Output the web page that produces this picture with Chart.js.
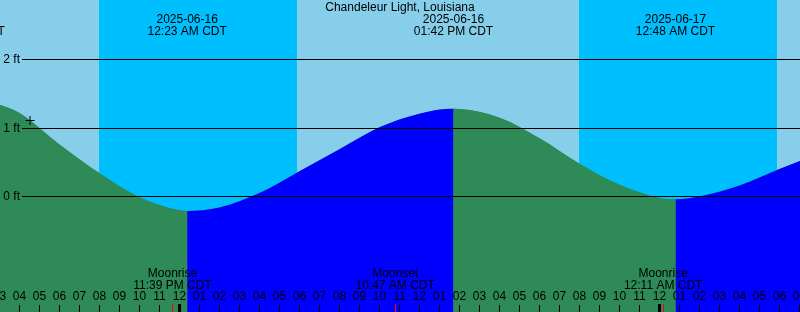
<!DOCTYPE html>
<html>
<head>
<meta charset="utf-8">
<script src="https://cdn.jsdelivr.net/npm/chart.js@4.4.1/dist/chart.umd.min.js"></script>
<style>
  body { margin: 0; background: #87ceeb; }
  #wrap { width: 800px; height: 312px; position: relative; }
</style>
</head>
<body>
<div id="wrap"><canvas id="tideChart"></canvas></div>
<script>
// all times are hours from 2025-06-16 00:00 CDT
const stationName = 'Chandeleur Light, Louisiana';

// tide curve (ft), highs and lows included
const curveHours = [-10.72, -9, -8, -6, -4, -2, 0, 0.383, 2, 4, 6, 8, 10, 12, 13.7, 16, 18, 20, 22, 24, 24.8, 26, 28, 30, 31.025];
const curveFeet = [1.44, 1.34, 1.22, 0.76, 0.34, -0.01, -0.20, -0.21, -0.16, 0.05, 0.37, 0.69, 1.01, 1.21, 1.28, 1.15, 0.85, 0.48, 0.17, -0.02, -0.04, 0.00, 0.16, 0.40, 0.52];

// high / low tide labels
const tideEventHours = [-10.72, 0.383, 13.7, 24.8];
const tideEventDates = ['2025-06-15', '2025-06-16', '2025-06-16', '2025-06-17'];
const tideEventTimes = ['01:17 PM CDT', '12:23 AM CDT', '01:42 PM CDT', '12:48 AM CDT'];

// night (sunset -> sunrise)
const sunsetHours = [-4.033, 19.967];
const sunriseHours = [5.867, 29.867];

// moon events
const moonHours = [-0.35, 10.783, 24.183];
const moonNames = ['Moonrise', 'Moonset', 'Moonrise'];
const moonTimes = ['11:39 PM CDT', '10:47 AM CDT', '12:11 AM CDT'];

// current time marker
const nowHour = [-7.475];
const nowFeet = [1.11];

const feetTicks = [0, 1, 2];

const xMin = -8.975, xMax = 31.025;
const yMin = -1.686, yMax = 2.869;

const font = '12px "Liberation Sans", Arial, sans-serif';

const tidePoints = curveHours.map((h, i) => ({ x: h, y: curveFeet[i] }));

const tidePlugin = {
    id: 'tideDecor',
    beforeDatasetsDraw(chart) {
        const { ctx, chartArea: a, scales: { x } } = chart;
        ctx.save();
        ctx.fillStyle = '#87ceeb';
        ctx.fillRect(a.left, a.top, a.right - a.left, a.bottom - a.top);
        ctx.fillStyle = '#00bfff';
        sunsetHours.forEach((s, i) => {
            const x0 = Math.round(x.getPixelForValue(s));
            const x1 = Math.round(x.getPixelForValue(sunriseHours[i]));
            ctx.fillRect(x0, a.top, x1 - x0, a.bottom - a.top);
        });
        ctx.restore();
    },
    afterDatasetsDraw(chart) {
        const { ctx, chartArea: a, scales: { x, y } } = chart;
        ctx.save();
        ctx.font = font;
        ctx.fillStyle = '#000';
        ctx.strokeStyle = '#000';
        ctx.lineWidth = 1;

        // gridlines with ft labels
        feetTicks.forEach(f => {
            const py = Math.floor(y.getPixelForValue(f)) + 0.5;
            ctx.beginPath();
            ctx.moveTo(22, py);
            ctx.lineTo(a.right, py);
            ctx.stroke();
            ctx.textAlign = 'right';
            ctx.textBaseline = 'middle';
            ctx.fillText(f + ' ft', 20, py);
        });

        // title
        ctx.textAlign = 'center';
        ctx.textBaseline = 'middle';
        ctx.fillText(stationName, 400, 8);

        // tide event labels
        tideEventHours.forEach((h, i) => {
            const px = x.getPixelForValue(h);
            ctx.fillText(tideEventDates[i], px, 20);
            ctx.fillText(tideEventTimes[i], px, 32);
        });

        // moon labels
        moonHours.forEach((h, i) => {
            const px = x.getPixelForValue(h);
            ctx.fillText(moonNames[i], px, 274);
            ctx.fillText(moonTimes[i], px, 286);
        });

        // hour labels and ticks
        for (let h = Math.floor(xMin); h <= Math.ceil(xMax); h++) {
            const px = Math.floor(x.getPixelForValue(h)) + 0.5;
            const hr12 = ((h % 12) + 12) % 12 || 12;
            ctx.fillText(String(hr12).padStart(2, '0'), px, 297);
            if (((h % 24) + 24) % 24 === 0) {
                ctx.fillRect(px - 1.5, 304, 3, a.bottom - 304);
            } else {
                ctx.beginPath();
                ctx.moveTo(px, 305);
                ctx.lineTo(px, a.bottom);
                ctx.stroke();
            }
        }

        // moon ticks
        ctx.strokeStyle = '#ff0000';
        moonHours.forEach(h => {
            const px = Math.floor(x.getPixelForValue(h)) + 0.5;
            ctx.beginPath();
            ctx.moveTo(px, 304);
            ctx.lineTo(px, a.bottom);
            ctx.stroke();
        });
        ctx.restore();
    }
};

new Chart(document.getElementById('tideChart'), {
    type: 'line',
    data: {
        datasets: [
            {
                type: 'scatter',
                data: nowHour.map((h, i) => ({ x: h, y: nowFeet[i] })),
                pointStyle: 'cross',
                pointRadius: 4.5,
                borderColor: '#000',
                borderWidth: 1,
                order: 0,
            },
            {
                data: tidePoints,
                borderColor: 'transparent',
                borderWidth: 0,
                pointRadius: 0,
                cubicInterpolationMode: 'monotone',
                fill: 'start',
                backgroundColor: '#2e8b57',
                segment: {
                    // rising water blue, falling water green
                    backgroundColor: c => c.p1.parsed.y > c.p0.parsed.y ? '#0000ff' : '#2e8b57',
                },
                order: 1,
            },
            {
                // plain underlay so the colour seams don't show the sky
                data: tidePoints,
                borderColor: 'transparent',
                borderWidth: 0,
                pointRadius: 0,
                cubicInterpolationMode: 'monotone',
                fill: 'start',
                backgroundColor: '#2e8b57',
                order: 2,
            },
        ],
    },
    options: {
        responsive: true,
        maintainAspectRatio: false,
        animation: false,
        layout: { padding: 0, autoPadding: false },
        plugins: {
            legend: { display: false },
            tooltip: { enabled: false },
            title: { display: false },
        },
        scales: {
            x: { type: 'linear', min: xMin, max: xMax, display: false },
            y: { min: yMin, max: yMax, display: false },
        },
    },
    plugins: [tidePlugin],
});
</script>
</body>
</html>
